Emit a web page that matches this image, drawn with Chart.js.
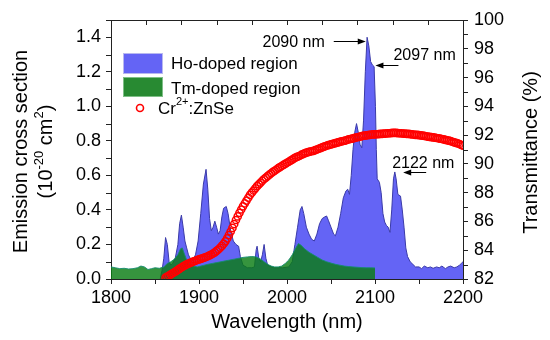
<!DOCTYPE html>
<html><head><meta charset="utf-8">
<script src="https://cdn.jsdelivr.net/npm/chart.js@4.4.1/dist/chart.umd.min.js"></script>
<style>html,body{margin:0;padding:0;background:#fff}#wrap{width:550px;height:340px}</style>
</head><body><div id="wrap"><canvas id="c" width="550" height="340"></canvas></div>
<script>
// ---- tick values ----
const xTickValues = [1800, 1900, 2000, 2100, 2200];
const xMinorTicks = [1850, 1950, 2050, 2150];
const topTickValues = [1840, 1880, 1920, 1960, 2000, 2040, 2080, 2120, 2160];
const yTickValues = [0, 0.2, 0.4, 0.6, 0.8, 1.0, 1.2, 1.4];
const yMinorTicks = [0.1, 0.3, 0.5, 0.7, 0.9, 1.1, 1.3, 1.5];
const y2TickValues = [82, 84, 86, 88, 90, 92, 94, 96, 98, 100];
const y2MinorTicks = [83, 85, 87, 89, 91, 93, 95, 97, 99];

// ---- Ho-doped region (emission cross section, 1e-20 cm2) ----
const hoWavelength = [1856,1858,1860,1862,1864,1866,1868,1870,1873,1876,1878,1880,1882,1884,1886,1888,1890,1893,1896,1899,1902,1905,1908,1910,1912,1914,1916,1918,1920,1922,1924,1926,1928,1931,1933,1936,1939,1942,1945,1947,1950,1955,1960,1963,1965,1966,1968,1970,1972,1974,1976,1978,1985,1995,2002,2006,2009,2012,2015,2017,2019,2022,2025,2028,2031,2034,2037,2040,2043,2045,2047,2050,2053,2055,2058,2061,2064,2067,2069,2071,2073,2075,2077,2079,2081,2083,2085,2087,2089,2091,2093,2095,2097,2099,2100.5,2101.5,2102.5,2105,2107,2109,2111,2113,2115,2117,2119,2121,2122.5,2124,2126,2129,2131,2133,2135,2137,2140,2143,2146,2150,2153,2156,2160,2163,2166,2170,2173,2176,2180,2183,2186,2190,2193,2196,2198,2200];
const hoCross = [0,0.05,0.12,0.24,0.2,0.1,0.08,0.09,0.12,0.2,0.32,0.37,0.3,0.22,0.18,0.14,0.12,0.11,0.14,0.22,0.38,0.55,0.635,0.52,0.35,0.28,0.3,0.335,0.3,0.26,0.28,0.36,0.41,0.42,0.38,0.28,0.22,0.2,0.19,0.13,0.08,0.065,0.065,0.07,0.17,0.19,0.12,0.1,0.14,0.2,0.12,0.08,0.065,0.065,0.07,0.1,0.2,0.3,0.4,0.42,0.38,0.3,0.26,0.23,0.22,0.26,0.32,0.35,0.36,0.365,0.34,0.3,0.26,0.25,0.3,0.38,0.47,0.51,0.52,0.49,0.6,0.75,0.85,0.9,0.85,0.78,0.76,0.92,1.2,1.40,1.35,1.26,1.24,1.23,1.0,0.75,0.58,0.56,0.5,0.38,0.33,0.31,0.3,0.27,0.4,0.58,0.62,0.58,0.49,0.48,0.4,0.3,0.18,0.13,0.1,0.085,0.07,0.07,0.06,0.075,0.065,0.07,0.062,0.07,0.065,0.075,0.06,0.07,0.075,0.065,0.07,0.08,0.09,0.1];

// ---- Tm-doped region ----
const tmWavelength = [1800,1805,1810,1815,1820,1825,1830,1834,1838,1842,1846,1850,1855,1860,1864,1868,1872,1876,1879,1881,1883,1886,1890,1894,1898,1902,1906,1910,1915,1920,1925,1930,1935,1940,1945,1950,1955,1960,1965,1970,1974,1978,1982,1986,1990,1994,1998,2002,2006,2010,2013,2016,2020,2025,2030,2035,2040,2045,2050,2055,2060,2065,2070,2075,2080,2085,2090,2095,2100];
const tmCross = [0.07,0.065,0.06,0.062,0.058,0.06,0.065,0.075,0.07,0.055,0.06,0.065,0.062,0.07,0.09,0.1,0.115,0.14,0.175,0.18,0.15,0.11,0.085,0.075,0.07,0.075,0.08,0.085,0.09,0.095,0.1,0.105,0.11,0.115,0.12,0.125,0.128,0.13,0.128,0.115,0.1,0.085,0.075,0.07,0.07,0.075,0.09,0.11,0.14,0.18,0.205,0.195,0.175,0.155,0.14,0.125,0.11,0.1,0.092,0.085,0.08,0.075,0.072,0.07,0.068,0.066,0.065,0.065,0.064];

// ---- Cr2+:ZnSe transmittance (%) ----
const crWavelength = [1862,1864,1866,1868,1870,1872,1874,1876,1878,1880,1882,1884,1886,1888,1890,1892,1894,1896,1898,1900,1902,1904,1906,1908,1910,1912,1914,1916,1918,1920,1922,1924,1926,1928,1930,1932,1934,1936,1938,1940,1942,1944,1946,1948,1950,1952,1954,1956,1958,1960,1962,1964,1966,1968,1970,1972,1974,1976,1978,1980,1982,1984,1986,1988,1990,1992,1994,1996,1998,2000,2002,2004,2006,2008,2010,2012,2014,2016,2018,2020,2022,2024,2026,2028,2030,2032,2034,2036,2038,2040,2042,2044,2046,2048,2050,2052,2054,2056,2058,2060,2062,2064,2066,2068,2070,2072,2074,2076,2078,2080,2082,2084,2086,2088,2090,2092,2094,2096,2098,2100,2102,2104,2106,2108,2110,2112,2114,2116,2118,2120,2122,2124,2126,2128,2130,2132,2134,2136,2138,2140,2142,2144,2146,2148,2150,2152,2154,2156,2158,2160,2162,2164,2166,2168,2170,2172,2174,2176,2178,2180,2182,2184,2186,2188,2190,2192,2194,2196,2198,2200];
const crTransmittance = [82.10,82.17,82.24,82.32,82.40,82.47,82.55,82.63,82.72,82.80,82.88,82.95,83.02,83.07,83.12,83.17,83.22,83.27,83.32,83.36,83.40,83.44,83.48,83.53,83.58,83.64,83.70,83.77,83.85,83.95,84.05,84.17,84.30,84.45,84.62,84.82,85.05,85.30,85.55,85.82,86.10,86.35,86.60,86.83,87.05,87.25,87.45,87.65,87.85,88.00,88.15,88.30,88.45,88.58,88.70,88.83,88.95,89.05,89.15,89.25,89.35,89.44,89.52,89.61,89.70,89.78,89.85,89.93,90.00,90.08,90.15,90.23,90.30,90.38,90.45,90.50,90.55,90.62,90.68,90.73,90.78,90.82,90.85,90.88,90.90,90.95,91.00,91.05,91.10,91.15,91.20,91.24,91.28,91.32,91.36,91.39,91.42,91.46,91.50,91.53,91.56,91.59,91.62,91.66,91.70,91.73,91.76,91.79,91.82,91.85,91.88,91.91,91.94,91.96,91.98,92.00,92.02,92.04,92.05,92.05,92.06,92.07,92.08,92.09,92.10,92.11,92.12,92.13,92.14,92.15,92.15,92.15,92.14,92.13,92.12,92.11,92.10,92.09,92.08,92.07,92.05,92.04,92.02,92.01,92.00,91.98,91.96,91.94,91.92,91.90,91.88,91.86,91.84,91.82,91.80,91.78,91.75,91.73,91.70,91.67,91.64,91.61,91.58,91.54,91.50,91.46,91.42,91.38,91.32,91.26];

// ---- peak annotations ----
const annotLabels = ['2090 nm', '2097 nm', '2122 nm'];
const annotTipX = [2089.5, 2100.5, 2132];
const annotTipY = [1.38, 1.24, 0.62];
const annotSide = ['left', 'right', 'right'];
// label offsets relative to arrow tip (styling)
const annotDx = [-41, 18, -11];
const annotDy = [1, -10, -9];

const FONT = "'Liberation Sans', Arial, Helvetica, sans-serif";
const toXY = (xs, ys) => xs.map((v, i) => ({x: v, y: ys[i]}));

const decor = {
  id: 'decor',
  afterDraw(chart) {
    const {ctx, chartArea: a, scales} = chart;
    const x = scales.x, y = scales.y, y2 = scales.y2;
    ctx.save();
    ctx.strokeStyle = '#222'; ctx.lineWidth = 1;
    const ln = (x1, y1, x2, y2_) => { ctx.beginPath(); ctx.moveTo(x1, y1); ctx.lineTo(x2, y2_); ctx.stroke(); };
    const top = Math.round(a.top) + 0.5;
    ln(a.left, top, a.right, top);
    xMinorTicks.forEach(v => { const p = Math.round(x.getPixelForValue(v)) + 0.5; ln(p, a.bottom, p, a.bottom + 5); });
    topTickValues.forEach(v => { const p = Math.round(x.getPixelForValue(v)) + 0.5; ln(p, a.top, p, a.top + 5); });
    yMinorTicks.forEach(v => { const p = Math.round(y.getPixelForValue(v)) + 0.5; ln(a.left - 5, p, a.left, p); });
    y2MinorTicks.forEach(v => { const p = Math.round(y2.getPixelForValue(v)) + 0.5; ln(a.right, p, a.right + 5, p); });

    ctx.fillStyle = '#000';
    // x title
    ctx.font = '20px ' + FONT; ctx.textAlign = 'center'; ctx.textBaseline = 'middle';
    ctx.fillText('Wavelength (nm)', (a.left + a.right) / 2, 322);
    // right title
    ctx.save(); ctx.translate(531, (a.top + a.bottom) / 2 + 3); ctx.rotate(-Math.PI / 2);
    ctx.fillText('Transmittance (%)', 0, 0); ctx.restore();
    // left title
    ctx.save(); ctx.translate(21, (a.top + a.bottom) / 2 + 2); ctx.rotate(-Math.PI / 2);
    ctx.fillText('Emission cross section', 0, 0); ctx.restore();
    // second line with superscripts
    const parts = [['(10', 0], ['-20', 1], [' cm', 0], ['2', 1], [')', 0]];
    const big = '20px ' + FONT, small = '13px ' + FONT;
    let w = 0; parts.forEach(p => { ctx.font = p[1] ? small : big; w += ctx.measureText(p[0]).width; });
    ctx.save(); ctx.translate(46, (a.top + a.bottom) / 2 + 2); ctx.rotate(-Math.PI / 2);
    ctx.textAlign = 'left';
    let cx = -w / 2;
    parts.forEach(p => { ctx.font = p[1] ? small : big; ctx.fillText(p[0], cx, p[1] ? -7 : 0); cx += ctx.measureText(p[0]).width; });
    ctx.restore();

    // legend
    ctx.fillStyle = 'rgb(100,100,245)'; ctx.fillRect(123, 53, 40, 21);
    ctx.strokeStyle = '#b8b8f0'; ctx.strokeRect(123.5, 53.5, 39, 20);
    ctx.fillStyle = 'rgb(40,138,50)'; ctx.fillRect(123, 77, 40, 20);
    ctx.strokeStyle = '#7fbf87'; ctx.strokeRect(123.5, 77.5, 39, 19);
    ctx.fillStyle = '#000'; ctx.font = '17px ' + FONT; ctx.textAlign = 'left'; ctx.textBaseline = 'middle';
    ctx.fillText('Ho-doped region', 171, 64);
    ctx.fillText('Tm-doped region', 171, 89);
    ctx.strokeStyle = '#ff0000'; ctx.lineWidth = 1.6;
    ctx.beginPath(); ctx.arc(140, 108, 3.5, 0, Math.PI * 2); ctx.stroke();
    let lx = 158;
    ctx.fillText('Cr', lx, 109); lx += ctx.measureText('Cr').width;
    ctx.font = '11px ' + FONT; ctx.fillText('2+', lx, 102); lx += ctx.measureText('2+').width;
    ctx.font = '17px ' + FONT; ctx.fillText(':ZnSe', lx, 109);

    // annotations
    ctx.strokeStyle = '#000'; ctx.fillStyle = '#000'; ctx.lineWidth = 1;
    annotLabels.forEach((lab, i) => {
      const tx = x.getPixelForValue(annotTipX[i]);
      const ty = Math.round(y.getPixelForValue(annotTipY[i])) + 0.5;
      ctx.font = '16px ' + FONT; ctx.textBaseline = 'middle';
      let dir;
      if (annotSide[i] === 'left') {
        dir = 1; ln(tx - 32, ty, tx - 6, ty);
        ctx.textAlign = 'right';
      } else {
        dir = -1; ln(tx + 23, ty, tx + 6, ty);
        ctx.textAlign = 'left';
      }
      ctx.fillText(lab, tx + annotDx[i], ty + annotDy[i]);
      ctx.beginPath();
      ctx.moveTo(tx, ty);
      ctx.lineTo(tx - dir * 8, ty - 3);
      ctx.lineTo(tx - dir * 8, ty + 3);
      ctx.closePath(); ctx.fill();
    });
    ctx.restore();
  }
};

new Chart(document.getElementById('c'), {
  type: 'line',
  data: {
    datasets: [
      {
        label: 'Cr2+:ZnSe', data: toXY(crWavelength, crTransmittance), yAxisID: 'y2',
        showLine: false, pointStyle: 'circle', pointRadius: 3.6, pointBorderWidth: 1.5,
        pointBorderColor: '#ff0000', pointBackgroundColor: 'rgba(0,0,0,0)', borderColor: '#ff0000', order: 0
      },
      {
        label: 'Tm-doped region', data: toXY(tmWavelength, tmCross), yAxisID: 'y',
        fill: 'origin', backgroundColor: 'rgba(10,125,20,0.82)', borderColor: 'rgba(20,140,110,0.9)',
        borderWidth: 1, pointRadius: 0, tension: 0, order: 1
      },
      {
        label: 'Ho-doped region', data: toXY(hoWavelength, hoCross), yAxisID: 'y',
        fill: 'origin', backgroundColor: 'rgb(100,100,245)', borderColor: '#3a3aa8',
        borderWidth: 1, pointRadius: 0, tension: 0, order: 2
      }
    ]
  },
  options: {
    responsive: false, animation: false, devicePixelRatio: 1,
    layout: {padding: {top: 20, left: 0, right: 0, bottom: 0}},
    plugins: {legend: {display: false}, tooltip: {enabled: false}},
    scales: {
      x: {
        type: 'linear', position: 'bottom', min: 1800, max: 2200,
        afterBuildTicks: s => { s.ticks = xTickValues.map(v => ({value: v})); },
        afterFit: s => { s.height = 61; },
        ticks: {font: {family: FONT, size: 18}, color: '#000', padding: 3, maxRotation: 0, callback: v => String(v)},
        grid: {drawOnChartArea: false, drawTicks: true, tickLength: 5, color: '#222'},
        border: {display: true, color: '#222'}
      },
      y: {
        position: 'left', min: 0, max: 1.5,
        afterBuildTicks: s => { s.ticks = yTickValues.map(v => ({value: v})); },
        afterFit: s => { s.width = 111; },
        ticks: {font: {family: FONT, size: 18}, color: '#000', padding: 5, callback: v => Number(v).toFixed(1)},
        grid: {drawOnChartArea: false, drawTicks: true, tickLength: 5, color: '#222'},
        border: {display: true, color: '#222'}
      },
      y2: {
        position: 'right', min: 82, max: 100,
        afterBuildTicks: s => { s.ticks = y2TickValues.map(v => ({value: v})); },
        afterFit: s => { s.width = 87; },
        ticks: {font: {family: FONT, size: 18}, color: '#000', padding: 6},
        grid: {drawOnChartArea: false, drawTicks: true, tickLength: 5, color: '#222'},
        border: {display: true, color: '#222'}
      }
    }
  },
  plugins: [decor]
});
</script>
</body></html>
